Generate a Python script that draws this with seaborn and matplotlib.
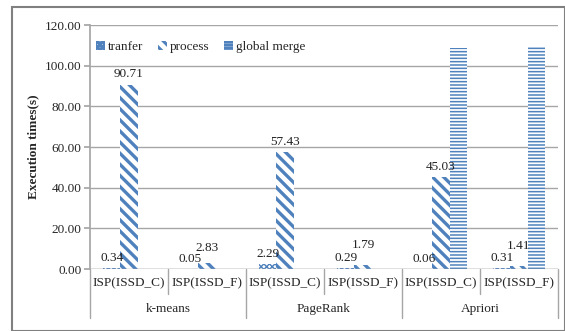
import numpy as np
import pandas as pd
import matplotlib
matplotlib.use("Agg")
import matplotlib.pyplot as plt
import seaborn as sns
from matplotlib.patches import Rectangle
from matplotlib.lines import Line2D

groups = ["k-means", "PageRank", "Apriori"]
configs = ["ISP(ISSD_C)", "ISP(ISSD_F)"]
categories = ["k-means C", "k-means F", "PageRank C", "PageRank F", "Apriori C", "Apriori F"]
series = ["tranfer", "process", "global merge"]
tranfer = [0.34, 0.05, 2.29, 0.29, 0.06, 0.31]
process = [90.71, 2.83, 57.43, 1.79, 45.03, 1.41]
global_merge = [np.nan, np.nan, np.nan, np.nan, 108.76, 109.24]
yticks = [0, 20, 40, 60, 80, 100, 120]

sns.set_theme(style="white")
plt.rcParams["font.family"] = ["Liberation Serif", "DejaVu Serif"]
plt.rcParams["hatch.linewidth"] = 2.2

rows = []
for s, vals in zip(series, [tranfer, process, global_merge]):
    for c, v in zip(categories, vals):
        rows.append({"cat": c, "series": s, "value": v})
df = pd.DataFrame(rows)

W, H = 565, 331
fig = plt.figure(figsize=(W / 100, H / 100), dpi=100)
ax = fig.add_axes([90 / W, 1 - 269 / H, (558 - 90) / W, (269 - 25) / H])

blue = "#4F81BD"
sns.barplot(data=df, x="cat", y="value", hue="series", order=categories,
            hue_order=series, ax=ax, width=0.66, legend=False,
            palette=["white"] * 3, edgecolor=blue, linewidth=0, errorbar=None)

hatches = ["xxxxxx", "\\\\\\", "-----"]
hatch_lw = [1.0, 2.4, 1.1]


def style_patch(p, h, lw):
    p.set_hatch(h)
    p.set_edgecolor(blue)
    p.set_facecolor("white")
    p.set_linewidth(0)
    if hasattr(p, "set_hatch_linewidth"):
        p.set_hatch_linewidth(lw)


for cont, h, lw in zip(ax.containers, hatches, hatch_lw):
    for p in cont.patches:
        style_patch(p, h, lw)

# value labels
extra = {("process", 1): 4, ("process", 3): 7, ("process", 5): 7}
for cont, s, vals in zip(ax.containers, series, [tranfer, process, global_merge]):
    for i, (p, v) in enumerate(zip(cont.patches, vals)):
        if np.isnan(v):
            continue
        off = 3 + extra.get((s, i), 0)
        ax.annotate(f"{v:.2f}", (p.get_x() + p.get_width() / 2, v),
                    xytext=(0, off), textcoords="offset points",
                    ha="center", va="bottom", fontsize=9.5, color="#222222")

ax.set_ylim(0, 120)
ax.set_xlim(-0.5, len(categories) - 0.5)
ax.set_yticks(yticks)
ax.set_yticklabels([f"{t:.2f}" for t in yticks], fontsize=9.5)
ax.yaxis.grid(True, color="#a6a6a6", linewidth=1)
ax.set_axisbelow(True)
ax.tick_params(axis="y", length=4, color="#a6a6a6", pad=2, left=True)
ax.set_xticks([])
ax.set_xlabel("")
ax.set_ylabel("Execution times(s)", fontsize=9.5, fontweight="bold", labelpad=4)
for sp in ["top", "right", "bottom"]:
    ax.spines[sp].set_visible(False)
ax.spines["left"].set_color("#a6a6a6")
ax.axhline(0, color="#a6a6a6", linewidth=1, zorder=3)

# two-level category axis
trans = ax.get_xaxis_transform()


def ypx(py):
    return (269 - py) / (269 - 25)


for k in range(len(categories) + 1):
    x = k - 0.5
    bottom = 318 if k % 2 == 0 else 294
    ax.add_line(Line2D([x, x], [0, ypx(bottom)], transform=trans,
                       color="#a6a6a6", linewidth=1, clip_on=False))
for i, c in enumerate(categories):
    ax.text(i, ypx(283), configs[i % 2], transform=trans, ha="center",
            va="center", fontsize=9.5)
for g, name in enumerate(groups):
    ax.text(2 * g + 0.5, ypx(309), name, transform=trans, ha="center",
            va="center", fontsize=9.5)

# legend
handles = []
for h, lw in zip(hatches, hatch_lw):
    r = Rectangle((0, 0), 1, 1)
    style_patch(r, h, lw)
    handles.append(r)
ax.legend(handles, series, loc="upper left", bbox_to_anchor=(-0.012, 0.985),
          ncol=3, frameon=False, fontsize=9.5, handlelength=0.7,
          handleheight=0.7, handletextpad=0.2, columnspacing=1.1)

# outer border
fig.patches.append(Rectangle((12 / W, 0), (W - 12) / W, 1 - 7 / H,
                             transform=fig.transFigure, fill=False,
                             edgecolor="#808080", linewidth=1.5))

fig.savefig("out.png", dpi=100)
